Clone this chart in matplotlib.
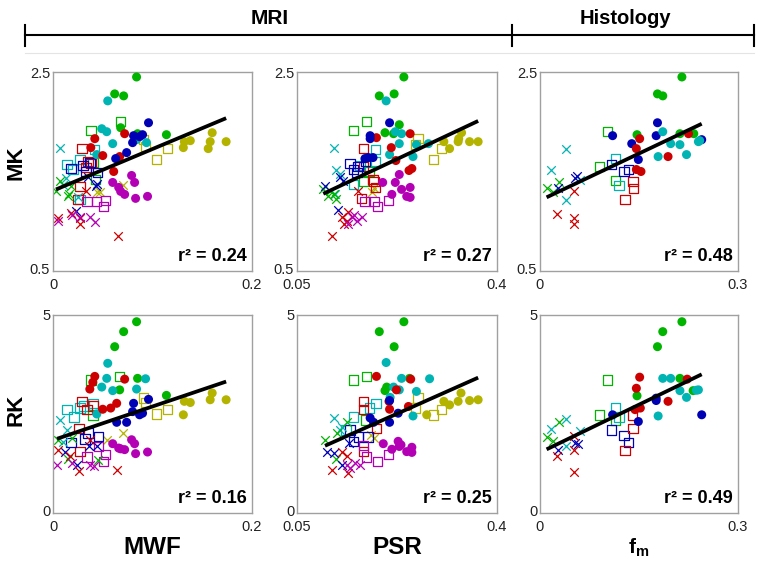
import matplotlib
matplotlib.use("Agg")
import matplotlib.pyplot as plt
import matplotlib.transforms as mtransforms
from matplotlib.lines import Line2D

plt.rcParams['font.family'] = ['Liberation Sans', 'DejaVu Sans']
plt.rcParams['mathtext.fontset'] = 'custom'
plt.rcParams['mathtext.bf'] = 'Liberation Sans:bold'
plt.rcParams['mathtext.rm'] = 'Liberation Sans'

# ---------------- data (group key = colour_marker) ----------------
mk_mwf = {
    'g_o': ([0.084, 0.062, 0.071, 0.068, 0.085, 0.114], [2.45, 2.28, 2.26, 1.94, 1.88, 1.87]),
    'c_o': ([0.055, 0.049, 0.054, 0.060, 0.084, 0.094, 0.044], [2.21, 1.93, 1.90, 1.78, 1.82, 1.79, 1.67]),
    'r_o': ([0.042, 0.072, 0.038, 0.050, 0.067, 0.061], [1.83, 1.88, 1.74, 1.66, 1.65, 1.50]),
    'b_o': ([0.096, 0.081, 0.087, 0.090, 0.080, 0.074, 0.063], [1.99, 1.86, 1.85, 1.87, 1.79, 1.69, 1.63]),
    'm_o': ([0.060, 0.079, 0.082, 0.066, 0.068, 0.072, 0.083, 0.095], [1.39, 1.46, 1.39, 1.34, 1.30, 1.27, 1.23, 1.25]),
    'y_o': ([0.132, 0.138, 0.160, 0.158, 0.174, 0.131, 0.156], [1.80, 1.81, 1.89, 1.80, 1.80, 1.74, 1.73]),
    'y_s': ([0.091, 0.093, 0.104, 0.115], [1.82, 1.75, 1.62, 1.73]),
    'y_x': ([0.070, 0.044, 0.047], [1.36, 1.29, 1.29]),
    'g_s': ([0.068, 0.038, 0.040, 0.043], [2.00, 1.91, 1.59, 1.42]),
    'c_s': ([0.042, 0.014, 0.027, 0.020, 0.027], [1.72, 1.57, 1.62, 1.52, 1.22]),
    'r_s': ([0.029, 0.035, 0.033, 0.027, 0.025, 0.038], [1.73, 1.60, 1.54, 1.35, 1.22, 1.58]),
    'b_s': ([0.018, 0.030, 0.037, 0.045, 0.033], [1.53, 1.56, 1.59, 1.49, 1.50]),
    'm_s': ([0.034, 0.044, 0.051, 0.053], [1.20, 1.20, 1.15, 1.21]),
    'c_x': ([0.007, 0.013, 0.010, 0.025], [1.74, 1.43, 1.36, 1.24]),
    'g_x': ([0.007, 0.003, 0.015, 0.018, 0.016], [1.40, 1.30, 1.25, 1.35, 1.27]),
    'b_x': ([0.023, 0.035, 0.043, 0.044], [1.10, 1.44, 1.35, 1.37]),
    'r_x': ([0.005, 0.018, 0.027, 0.065, 0.033, 0.027], [1.03, 1.08, 0.97, 0.85, 1.30, 1.03]),
    'm_x': ([0.005, 0.019, 0.037, 0.042, 0.027], [1.00, 1.06, 1.04, 0.99, 1.04]),
}

mk_psr = {
    'g_o': ([0.237, 0.194, 0.220, 0.229, 0.204, 0.219], [2.45, 2.26, 2.28, 1.97, 1.89, 1.88]),
    'c_o': ([0.206, 0.222, 0.233, 0.229, 0.212, 0.259, 0.280, 0.253], [2.21, 1.90, 1.88, 1.78, 1.67, 1.77, 1.78, 1.65]),
    'r_o': ([0.189, 0.248, 0.215, 0.223, 0.251, 0.246], [1.84, 1.88, 1.74, 1.61, 1.53, 1.51]),
    'b_o': ([0.212, 0.178, 0.178, 0.175, 0.169, 0.183], [1.99, 1.86, 1.83, 1.64, 1.63, 1.64]),
    'm_o': ([0.200, 0.222, 0.229, 0.216, 0.233, 0.248, 0.248, 0.242], [1.39, 1.39, 1.47, 1.27, 1.32, 1.34, 1.24, 1.25]),
    'y_o': ([0.338, 0.352, 0.367, 0.332, 0.333, 0.317, 0.307], [1.89, 1.80, 1.80, 1.80, 1.83, 1.73, 1.80]),
    'y_s': ([0.262, 0.257, 0.303, 0.289], [1.83, 1.77, 1.73, 1.62]),
    'y_x': ([0.181, 0.185], [1.29, 1.33]),
    'g_s': ([0.172, 0.149, 0.166, 0.176], [2.00, 1.91, 1.40, 1.50]),
    'c_s': ([0.187, 0.187, 0.149, 0.160], [1.72, 1.60, 1.37, 1.56]),
    'r_s': ([0.166, 0.166, 0.185, 0.187, 0.163, 0.183], [1.73, 1.55, 1.40, 1.34, 1.23, 1.42]),
    'b_s': ([0.143, 0.149, 0.157, 0.155, 0.170], [1.58, 1.52, 1.55, 1.49, 1.60]),
    'm_s': ([0.169, 0.185, 0.191, 0.210], [1.20, 1.20, 1.15, 1.21]),
    'c_x': ([0.114, 0.119, 0.125, 0.117], [1.74, 1.52, 1.47, 1.27]),
    'g_x': ([0.096, 0.114, 0.119, 0.108, 0.105], [1.32, 1.27, 1.22, 1.30, 1.25]),
    'b_x': ([0.099, 0.121, 0.125, 0.131], [1.35, 1.11, 1.44, 1.40]),
    'r_x': ([0.111, 0.128, 0.137, 0.140, 0.157, 0.133], [0.85, 1.04, 1.00, 1.09, 1.30, 0.97]),
    'm_x': ([0.146, 0.155, 0.163, 0.140, 0.150], [1.04, 1.00, 1.04, 0.97, 1.06]),
}

mk_fm = {
    'g_o': ([0.215, 0.178, 0.186, 0.147, 0.212, 0.233], [2.45, 2.28, 2.26, 1.87, 1.88, 1.88]),
    'b_o': ([0.178, 0.110, 0.139, 0.176, 0.149, 0.245], [1.99, 1.86, 1.78, 1.86, 1.62, 1.82]),
    'r_o': ([0.151, 0.146, 0.225, 0.194, 0.146, 0.153], [1.83, 1.73, 1.88, 1.65, 1.52, 1.50]),
    'c_o': ([0.186, 0.198, 0.212, 0.240, 0.242, 0.179, 0.222], [1.90, 1.78, 1.77, 1.80, 1.81, 1.65, 1.67]),
    'g_s': ([0.102, 0.090, 0.114], [1.90, 1.55, 1.41]),
    'c_s': ([0.114, 0.120], [1.63, 1.36]),
    'b_s': ([0.108, 0.127, 0.134], [1.57, 1.50, 1.52]),
    'r_s': ([0.141, 0.142, 0.129], [1.40, 1.33, 1.22]),
    'c_x': ([0.040, 0.016, 0.039, 0.061], [1.73, 1.52, 1.21, 1.41]),
    'g_x': ([0.010, 0.029, 0.020], [1.33, 1.39, 1.29]),
    'b_x': ([0.028, 0.053, 0.056], [1.33, 1.43, 1.45]),
    'r_x': ([0.026, 0.051, 0.051, 0.051], [1.07, 1.30, 1.03, 0.97]),
}

rk_mwf = {
    'g_o': ([0.084, 0.071, 0.062, 0.085, 0.067, 0.114], [4.83, 4.58, 4.20, 3.40, 3.11, 2.97]),
    'c_o': ([0.055, 0.054, 0.049, 0.060, 0.084, 0.093, 0.044], [3.78, 3.40, 3.18, 3.09, 3.13, 3.39, 2.50]),
    'r_o': ([0.042, 0.040, 0.037, 0.050, 0.058, 0.064, 0.072], [3.45, 3.30, 3.13, 2.62, 2.65, 2.77, 3.38]),
    'b_o': ([0.096, 0.081, 0.087, 0.090, 0.080, 0.074, 0.064], [2.87, 2.77, 2.48, 2.52, 2.56, 2.29, 2.29]),
    'm_o': ([0.060, 0.066, 0.072, 0.079, 0.082, 0.083, 0.095, 0.068], [1.75, 1.64, 1.60, 1.85, 1.75, 1.50, 1.54, 1.62]),
    'y_o': ([0.132, 0.138, 0.160, 0.158, 0.174, 0.131], [2.82, 2.79, 3.03, 2.86, 2.86, 2.48]),
    'y_s': ([0.091, 0.093, 0.104, 0.115], [2.90, 2.79, 2.50, 2.62]),
    'y_x': ([0.070, 0.054], [2.02, 1.85]),
    'g_s': ([0.067, 0.038, 0.040], [3.45, 3.36, 2.48]),
    'c_s': ([0.014, 0.021, 0.027, 0.040, 0.031], [2.62, 2.42, 2.65, 2.77, 2.70]),
    'r_s': ([0.029, 0.034, 0.026, 0.027, 0.040], [2.82, 2.61, 2.14, 1.55, 2.70]),
    'b_s': ([0.018, 0.035, 0.046, 0.032], [1.78, 2.02, 1.93, 1.87]),
    'm_s': ([0.034, 0.046, 0.053, 0.051], [1.41, 1.68, 1.47, 1.30]),
    'c_x': ([0.007, 0.014, 0.010], [2.35, 2.10, 1.80]),
    'g_x': ([0.005, 0.019, 0.015, 0.045], [1.85, 1.89, 1.36, 1.34]),
    'b_x': ([0.012, 0.024, 0.036, 0.044], [1.55, 1.22, 1.70, 1.68]),
    'r_x': ([0.005, 0.017, 0.026, 0.064, 0.037], [1.58, 1.43, 1.05, 1.08, 1.85]),
    'm_x': ([0.004, 0.019, 0.037, 0.041], [1.20, 1.26, 1.22, 1.18]),
}

rk_psr = {
    'g_o': ([0.237, 0.194, 0.220, 0.247, 0.207, 0.204], [4.83, 4.58, 4.20, 3.40, 3.18, 3.09]),
    'c_o': ([0.206, 0.233, 0.282, 0.219, 0.229, 0.259, 0.213, 0.253], [3.80, 3.40, 3.39, 3.18, 3.11, 3.07, 2.92, 2.45]),
    'r_o': ([0.189, 0.249, 0.224, 0.211, 0.212, 0.245], [3.45, 3.38, 3.11, 2.82, 2.62, 2.69]),
    'b_o': ([0.212, 0.227, 0.212, 0.178, 0.184], [2.84, 2.52, 2.29, 2.40, 2.29]),
    'm_o': ([0.201, 0.227, 0.229, 0.216, 0.242, 0.251, 0.251, 0.232], [1.75, 1.81, 1.68, 1.61, 1.55, 1.66, 1.53, 1.72]),
    'y_o': ([0.337, 0.352, 0.367, 0.332, 0.317, 0.307, 0.277], [3.03, 2.84, 2.86, 2.82, 2.73, 2.82, 2.48]),
    'y_s': ([0.262, 0.257, 0.303, 0.289], [2.90, 2.65, 2.62, 2.48]),
    'y_x': ([0.184, 0.180], [1.89, 1.96]),
    'g_s': ([0.172, 0.149, 0.170], [3.45, 3.36, 2.35]),
    'c_s': ([0.188, 0.177, 0.149, 0.136], [2.77, 2.65, 2.42, 2.10]),
    'r_s': ([0.166, 0.166, 0.189, 0.166], [2.82, 2.61, 2.14, 1.55]),
    'b_s': ([0.143, 0.158, 0.149, 0.174], [2.10, 1.92, 1.81, 1.92]),
    'm_s': ([0.172, 0.191, 0.210, 0.166], [1.41, 1.30, 1.47, 1.70]),
    'c_x': ([0.115, 0.125, 0.128], [2.39, 2.10, 2.18]),
    'g_x': ([0.099, 0.119, 0.137, 0.120], [1.85, 1.36, 2.31, 2.02]),
    'b_x': ([0.102, 0.114, 0.129, 0.141], [1.55, 1.51, 1.22, 1.76]),
    'r_x': ([0.112, 0.140, 0.138, 0.128], [1.08, 1.01, 1.43, 1.55]),
    'm_x': ([0.137, 0.151, 0.161, 0.143], [1.22, 1.26, 1.22, 1.13]),
}

rk_fm = {
    'g_o': ([0.215, 0.186, 0.178, 0.212, 0.232, 0.147], [4.83, 4.58, 4.20, 3.40, 3.09, 2.96]),
    'r_o': ([0.151, 0.146, 0.223, 0.194, 0.152, 0.144], [3.43, 3.15, 3.38, 2.82, 2.65, 2.61]),
    'c_o': ([0.186, 0.198, 0.212, 0.240, 0.222, 0.179, 0.237], [3.40, 3.40, 3.09, 3.11, 2.92, 2.45, 3.10]),
    'b_o': ([0.176, 0.149, 0.245, 0.110, 0.176], [2.84, 2.31, 2.48, 2.48, 2.90]),
    'g_s': ([0.102, 0.090, 0.114], [3.36, 2.48, 2.35]),
    'c_s': ([0.114, 0.120], [2.65, 2.42]),
    'b_s': ([0.108, 0.127, 0.134], [2.10, 1.95, 1.78]),
    'r_s': ([0.140, 0.141, 0.129], [2.48, 2.14, 1.58]),
    'c_x': ([0.040, 0.016, 0.039, 0.061], [2.37, 2.12, 1.70, 2.08]),
    'g_x': ([0.010, 0.029, 0.020], [1.92, 2.31, 1.83]),
    'b_x': ([0.028, 0.053, 0.057], [1.58, 1.78, 1.75]),
    'r_x': ([0.026, 0.051, 0.051, 0.051], [1.43, 1.95, 1.58, 1.03]),
}

# regression lines: (slope, intercept)
fit_lines = [(4.19, 1.307), (2.70, 1.017), (3.145, 1.209),
             (8.5, 1.84), (6.42, 1.062), (8.06, 1.527)]
r2_values = ['0.24', '0.27', '0.48', '0.16', '0.25', '0.49']

x_limits = [(0, 0.2), (0.05, 0.4), (0, 0.3)]
x_ticklabels = [['0', '0.2'], ['0.05', '0.4'], ['0', '0.3']]
y_limits = [(0.5, 2.5), (0, 5)]
y_ticklabels = [['0.5', '2.5'], ['0', '5']]
row_labels = ['MK', 'RK']
col_labels = ['MWF', 'PSR', r'f$_\mathbf{m}$']
header_labels = ['MRI', 'Histology']

colors = {'r': '#cc0000', 'g': '#00b400', 'b': '#0000b4',
          'c': '#00b4b4', 'm': '#b400b4', 'y': '#b4b400'}

panels = [mk_mwf, mk_psr, mk_fm, rk_mwf, rk_psr, rk_fm]

# ---------------- figure ----------------
W, H = 762, 565
fig = plt.figure(figsize=(W / 100, H / 100), dpi=100)

col_px = [(53, 252), (297, 497), (540, 738)]
row_px = [(72, 271), (315, 513)]

axes = []
for r in range(2):
    for c in range(3):
        x0, x1 = col_px[c]
        y0, y1 = row_px[r]
        ax = fig.add_axes([x0 / W, 1 - y1 / H, (x1 - x0) / W, (y1 - y0) / H])
        axes.append((ax, r, c))

for i, (ax, r, c) in enumerate(axes):
    data = panels[i]
    allx = []
    for key, (xs, ys) in data.items():
        col, mk = key.split('_')
        allx += xs
        if mk == 'o':
            ax.scatter(xs, ys, s=42, marker='o', color=colors[col], edgecolors='none', zorder=3)
        elif mk == 's':
            ax.scatter(xs, ys, s=46, marker='s', facecolors='none', edgecolors=colors[col],
                       linewidths=0.9, zorder=2)
        else:
            ax.scatter(xs, ys, s=38, marker='x', color=colors[col], linewidths=0.9, zorder=2)
    slope, icpt = fit_lines[i]
    xa, xb = min(allx), max(allx)
    ax.plot([xa, xb], [icpt + slope * xa, icpt + slope * xb], color='black', lw=2.7,
            solid_capstyle='butt', zorder=5)

    ax.set_xlim(*x_limits[c])
    ax.set_ylim(*y_limits[r])
    ax.set_xticks(list(x_limits[c]))
    ax.set_xticklabels(x_ticklabels[c])
    ax.set_yticks(list(y_limits[r]))
    ax.set_yticklabels(y_ticklabels[r])
    ax.tick_params(length=0, labelsize=10.5, colors='#222222')
    ax.tick_params(axis='x', pad=5)
    ax.tick_params(axis='y', pad=2)
    # lift the lower y tick label slightly so it clears the x tick label below
    ylab_low = ax.get_yticklabels()[0]
    ylab_low.set_transform(ylab_low.get_transform() +
                           mtransforms.ScaledTranslation(0, 2 / 72, fig.dpi_scale_trans))
    for s in ax.spines.values():
        s.set_color('#a0a0a0')
        s.set_linewidth(1.0)
    ax.text(0.975, 0.03, 'r² = ' + r2_values[i], transform=ax.transAxes, ha='right',
            va='bottom', fontsize=13, fontweight='bold', zorder=6)

# row labels
fig.text(16 / W, 1 - 163 / H, row_labels[0], rotation=90, ha='center', va='center',
         fontsize=16, fontweight='bold')
fig.text(16 / W, 1 - 410 / H, row_labels[1], rotation=90, ha='center', va='center',
         fontsize=16, fontweight='bold')

# column labels
for c, lab in enumerate(col_labels):
    cx = (col_px[c][0] + col_px[c][1]) / 2 / W
    fs = 17.5 if c < 2 else 15
    fig.text(cx, 1 - 548 / H, lab, ha='center', va='center', fontsize=fs, fontweight='bold')

# header bracket
ly = 1 - 35 / H
for (xa, xb) in [(25, 512), (512, 754)]:
    fig.add_artist(Line2D([xa / W, xb / W], [ly, ly], color='black', lw=1.5))
for xt in [25, 512, 754]:
    fig.add_artist(Line2D([xt / W, xt / W], [1 - 25 / H, 1 - 46 / H], color='black', lw=1.5))
fig.add_artist(Line2D([25 / W, 754 / W], [1 - 53 / H, 1 - 53 / H], color='#e4e4e4', lw=0.8))
fig.text(270 / W, 1 - 18 / H, header_labels[0], ha='center', va='center', fontsize=15,
         fontweight='bold')
fig.text(625 / W, 1 - 18 / H, header_labels[1], ha='center', va='center', fontsize=14.5,
         fontweight='bold')

fig.savefig('out.png', dpi=100)
